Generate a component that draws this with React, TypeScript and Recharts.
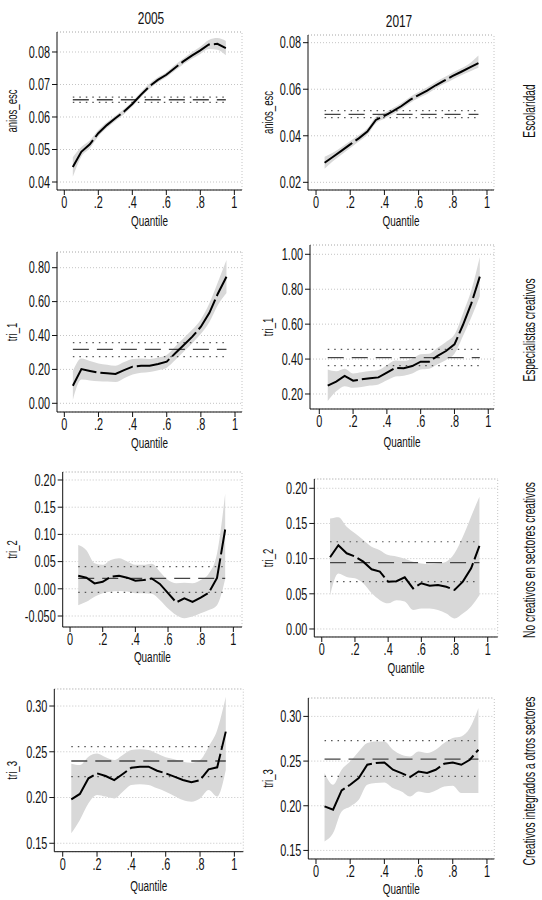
import { ComposedChart, Area, Line, XAxis, YAxis, CartesianGrid, ReferenceLine } from 'recharts';

const FONT = "'Liberation Sans', Arial, sans-serif";

const quantiles = [0.05, 0.1, 0.15, 0.2, 0.25, 0.3, 0.35, 0.4, 0.45, 0.5, 0.55, 0.6, 0.65, 0.7, 0.75, 0.8, 0.85, 0.9, 0.95];
const xTicks = [0, 0.2, 0.4, 0.6, 0.8, 1];

// anios_esc 2005
const esc2005Est = [0.0446, 0.0493, 0.0516, 0.055, 0.0575, 0.0596, 0.0616, 0.064, 0.0668, 0.0694, 0.0714, 0.073, 0.0751, 0.0771, 0.0789, 0.0805, 0.0823, 0.0825, 0.0812];
const esc2005Lo = [0.0416, 0.0478, 0.0504, 0.054, 0.0566, 0.0588, 0.0608, 0.0632, 0.066, 0.0686, 0.0706, 0.0722, 0.0742, 0.0762, 0.0779, 0.0794, 0.0809, 0.0807, 0.079];
const esc2005Hi = [0.0476, 0.0508, 0.0528, 0.056, 0.0584, 0.0604, 0.0624, 0.0648, 0.0676, 0.0702, 0.0722, 0.0738, 0.076, 0.078, 0.0799, 0.0816, 0.0837, 0.0843, 0.0834];
const esc2005Ols = [0.0653, 0.0645, 0.0661]; // coef, lower, upper

// anios_esc 2017
const esc2017Est = [0.0284, 0.031, 0.0336, 0.0363, 0.0389, 0.0418, 0.0468, 0.0486, 0.0506, 0.0528, 0.0554, 0.0575, 0.0594, 0.0617, 0.0637, 0.0657, 0.0675, 0.0694, 0.0712];
const esc2017Lo = [0.0258, 0.0292, 0.032, 0.0348, 0.0375, 0.0404, 0.0454, 0.0473, 0.0493, 0.0515, 0.0541, 0.0562, 0.058, 0.0603, 0.0623, 0.0642, 0.066, 0.0676, 0.0692];
const esc2017Hi = [0.031, 0.0328, 0.0352, 0.0378, 0.0403, 0.0432, 0.0482, 0.0499, 0.0519, 0.0541, 0.0567, 0.0588, 0.0608, 0.0631, 0.0651, 0.0672, 0.069, 0.0712, 0.0745];
const esc2017Ols = [0.0492, 0.0478, 0.0508];

// tri_1 2005
const tri1_2005Est = [0.104, 0.202, 0.191, 0.181, 0.177, 0.173, 0.196, 0.216, 0.222, 0.222, 0.232, 0.246, 0.295, 0.344, 0.393, 0.452, 0.534, 0.648, 0.747];
const tri1_2005Lo = [0.02, 0.14, 0.135, 0.13, 0.128, 0.125, 0.148, 0.17, 0.18, 0.185, 0.195, 0.21, 0.255, 0.305, 0.355, 0.41, 0.48, 0.58, 0.65];
const tri1_2005Hi = [0.19, 0.265, 0.25, 0.235, 0.228, 0.222, 0.244, 0.262, 0.265, 0.262, 0.27, 0.285, 0.335, 0.385, 0.435, 0.495, 0.59, 0.715, 0.845];
const tri1_2005Ols = [0.318, 0.275, 0.358];

// tri_1 2017
const tri1_2017Est = [0.248, 0.271, 0.303, 0.276, 0.284, 0.29, 0.295, 0.322, 0.349, 0.347, 0.36, 0.385, 0.385, 0.418, 0.446, 0.484, 0.595, 0.719, 0.872];
const tri1_2017Lo = [0.16, 0.215, 0.245, 0.235, 0.24, 0.248, 0.255, 0.278, 0.3, 0.305, 0.318, 0.34, 0.345, 0.37, 0.395, 0.43, 0.53, 0.64, 0.76];
const tri1_2017Hi = [0.34, 0.33, 0.345, 0.318, 0.325, 0.332, 0.338, 0.365, 0.392, 0.39, 0.402, 0.428, 0.43, 0.465, 0.498, 0.54, 0.66, 0.795, 0.985];
const tri1_2017Ols = [0.408, 0.362, 0.456];

// tri_2 2005
const tri2_2005Est = [0.024, 0.0205, 0.01, 0.013, 0.022, 0.024, 0.0205, 0.015, 0.016, 0.019, 0.009, -0.008, -0.025, -0.0175, -0.024, -0.016, -0.007, 0.02, 0.109];
const tri2_2005Lo = [-0.03, -0.024, -0.0145, -0.008, -0.005, -0.004, -0.005, -0.008, -0.008, -0.009, -0.0205, -0.036, -0.048, -0.054, -0.051, -0.045, -0.039, -0.03, 0.018];
const tri2_2005Hi = [0.0805, 0.071, 0.047, 0.044, 0.053, 0.056, 0.05, 0.044, 0.044, 0.046, 0.0315, 0.016, 0.01, 0.011, 0.01, 0.016, 0.028, 0.065, 0.175];
const tri2_2005Ols = [0.0192, -0.0065, 0.0407];

// tri_2 2017
const tri2_2017Est = [0.102, 0.119, 0.1076, 0.103, 0.0957, 0.0848, 0.0815, 0.0673, 0.068, 0.0735, 0.0578, 0.065, 0.0616, 0.0626, 0.06, 0.0555, 0.0673, 0.0863, 0.118];
const tri2_2017Lo = [0.048, 0.079, 0.074, 0.072, 0.065, 0.051, 0.041, 0.0365, 0.041, 0.039, 0.027, 0.029, 0.029, 0.027, 0.022, 0.015, 0.022, 0.032, 0.048];
const tri2_2017Hi = [0.157, 0.159, 0.1455, 0.136, 0.1265, 0.117, 0.112, 0.105, 0.103, 0.1, 0.0957, 0.093, 0.092, 0.093, 0.0957, 0.1076, 0.131, 0.16, 0.188];
const tri2_2017Ols = [0.0943, 0.0673, 0.124];

// tri_3 2005
const tri3_2005Est = [0.198, 0.2039, 0.221, 0.2264, 0.2235, 0.219, 0.2257, 0.2326, 0.2337, 0.2337, 0.2293, 0.2264, 0.2228, 0.2192, 0.2166, 0.219, 0.2308, 0.233, 0.272];
const tri3_2005Lo = [0.161, 0.1755, 0.1937, 0.2028, 0.201, 0.199, 0.2064, 0.2137, 0.2144, 0.2137, 0.21, 0.2064, 0.2017, 0.1973, 0.1955, 0.199, 0.2082, 0.201, 0.23];
const tri3_2005Hi = [0.237, 0.2355, 0.2446, 0.248, 0.244, 0.241, 0.2465, 0.252, 0.2527, 0.252, 0.248, 0.244, 0.2418, 0.239, 0.238, 0.241, 0.2556, 0.2738, 0.31];
const tri3_2005Ols = [0.2399, 0.2228, 0.2556];

// tri_3 2017
const tri3_2017Est = [0.1993, 0.1955, 0.2172, 0.2235, 0.231, 0.2459, 0.2478, 0.2485, 0.2403, 0.2366, 0.2321, 0.2384, 0.2366, 0.2403, 0.247, 0.2485, 0.2459, 0.2515, 0.2627];
const tri3_2017Lo = [0.16, 0.1694, 0.1937, 0.1993, 0.2067, 0.2235, 0.2254, 0.2261, 0.2198, 0.216, 0.2104, 0.216, 0.2142, 0.2172, 0.2216, 0.2224, 0.2142, 0.2142, 0.2142];
const tri3_2017Hi = [0.2366, 0.2235, 0.2403, 0.2496, 0.2608, 0.2701, 0.272, 0.272, 0.2627, 0.2571, 0.2552, 0.2608, 0.259, 0.2627, 0.2701, 0.2757, 0.2776, 0.287, 0.3093];
const tri3_2017Ols = [0.2522, 0.2328, 0.2728];

const yTicksEsc2005 = [0.04, 0.05, 0.06, 0.07, 0.08];
const yTicksEsc2017 = [0.02, 0.04, 0.06, 0.08];
const yTicksTri1_2005 = [0, 0.2, 0.4, 0.6, 0.8];
const yTicksTri1_2017 = [0.2, 0.4, 0.6, 0.8, 1];
const yTicksTri2_2005 = [-0.05, 0, 0.05, 0.1, 0.15, 0.2];
const yTicksTri2_2017 = [0, 0.05, 0.1, 0.15, 0.2];
const yTicksTri3 = [0.15, 0.2, 0.25, 0.3];

const columnTitles = ['2005', '2017'];
const rowTitles = ['Escolaridad', 'Especialistas creativos', 'No creativos en sectores creativos', 'Creativos integrados a otros sectores'];

const panels = [
  { name: 'anios_esc', est: esc2005Est, lo: esc2005Lo, hi: esc2005Hi, ols: esc2005Ols, ticks: yTicksEsc2005, col: 0, l: 57, t: 32, r: 242, b: 190, xd: [-0.043, 1.045], yd: [0.03754, 0.08615], qOff: 31 },
  { name: 'anios_esc', est: esc2017Est, lo: esc2017Lo, hi: esc2017Hi, ols: esc2017Ols, ticks: yTicksEsc2017, col: 1, l: 308, t: 35, r: 494, b: 190, xd: [-0.047, 1.041], yd: [0.0167, 0.0833], qOff: 31 },
  { name: 'tri_1', est: tri1_2005Est, lo: tri1_2005Lo, hi: tri1_2005Hi, ols: tri1_2005Ols, ticks: yTicksTri1_2005, col: 0, l: 57, t: 252, r: 242, b: 412, xd: [-0.043, 1.041], yd: [-0.0513, 0.8926], qOff: 31 },
  { name: 'tri_1', est: tri1_2017Est, lo: tri1_2017Lo, hi: tri1_2017Hi, ols: tri1_2017Ols, ticks: yTicksTri1_2017, col: 1, l: 310, t: 245, r: 494, b: 409, xd: [-0.055, 1.034], yd: [0.114, 1.0533], qOff: 33 },
  { name: 'tri_2', est: tri2_2005Est, lo: tri2_2005Lo, hi: tri2_2005Hi, ols: tri2_2005Ols, ticks: yTicksTri2_2005, col: 0, l: 62.7, t: 472, r: 242, b: 627, xd: [-0.045, 1.053], yd: [-0.0702, 0.2147], qOff: 30 },
  { name: 'tri_2', est: tri2_2017Est, lo: tri2_2017Lo, hi: tri2_2017Hi, ols: tri2_2017Ols, ticks: yTicksTri2_2017, col: 1, l: 314.3, t: 479, r: 497.7, b: 637, xd: [-0.045, 1.06], yd: [-0.0114, 0.2132], qOff: 31 },
  { name: 'tri_3', est: tri3_2005Est, lo: tri3_2005Lo, hi: tri3_2005Hi, ols: tri3_2005Ols, ticks: yTicksTri3, col: 0, l: 54.3, t: 689, r: 243.3, b: 851.7, xd: [-0.049, 1.052], yd: [0.1408, 0.3186], qOff: 34 },
  { name: 'tri_3', est: tri3_2017Est, lo: tri3_2017Lo, hi: tri3_2017Hi, ols: tri3_2017Ols, ticks: yTicksTri3, col: 1, l: 308.3, t: 698.3, r: 494.3, b: 859.3, xd: [-0.045, 1.043], yd: [0.1404, 0.3206], qOff: 30 },
];

const colLeft = [0, 258];
const yLabelX = [12, 268];

const fmtY = (v: number) => (v === -0.05 ? '-0.050' : v.toFixed(2));
const fmtX = (v: number) => (v === 0 ? '0' : v === 1 ? '1' : '.' + Math.round(v * 10));

const YTick = ({ x, y, payload }: any) => (
  <text transform={`translate(${x},${y}) scale(0.68,1)`} textAnchor="end" dy="0.36em" fontSize={16} fontFamily={FONT} fill="#111">
    {fmtY(payload.value)}
  </text>
);

const XTick = ({ x, y, payload }: any) => (
  <text transform={`translate(${x},${y}) scale(0.68,1)`} textAnchor="middle" dy="0.71em" fontSize={16} fontFamily={FONT} fill="#111">
    {fmtX(payload.value)}
  </text>
);

function Panel({ p }: { p: any }) {
  const left = colLeft[p.col];
  const width = p.r + 4 - left;
  const height = p.b - p.t + 53;
  const rows = quantiles.map((q, i) => ({
    q,
    est: p.est[i],
    band: [p.lo[i], p.hi[i]],
    ols: p.ols[0],
    olsLo: p.ols[1],
    olsHi: p.ols[2],
  }));
  const lx = yLabelX[p.col] - left;
  return (
    <div style={{ position: 'absolute', left, top: p.t - 5 }}>
      <ComposedChart width={width} height={height} data={rows} margin={{ top: 5, right: 4, bottom: 0, left: 0 }}>
        <CartesianGrid horizontal vertical={false} stroke="#c4c4c4" strokeDasharray="1 2" />
        <XAxis
          type="number"
          dataKey="q"
          domain={p.xd}
          ticks={xTicks}
          allowDataOverflow
          height={48}
          tickSize={5}
          tickMargin={2}
          tick={<XTick />}
          stroke="#111"
          label={(lp: any) => {
            const vb = lp.viewBox;
            return (
              <text transform={`translate(${vb.x + vb.width / 2},${vb.y + p.qOff}) scale(0.64,1)`} textAnchor="middle" dominantBaseline="central" fontSize={15.5} fontFamily={FONT} fill="#111">
                Quantile
              </text>
            );
          }}
        />
        <YAxis
          type="number"
          domain={p.yd}
          ticks={p.ticks}
          allowDataOverflow
          width={p.l - left}
          tickSize={5}
          tickMargin={2}
          tick={<YTick />}
          stroke="#111"
          label={(lp: any) => {
            const vb = lp.viewBox;
            return (
              <text transform={`translate(${lx},${vb.y + vb.height / 2}) rotate(-90) scale(0.62,1)`} textAnchor="middle" dominantBaseline="central" fontSize={15.5} fontFamily={FONT} fill="#111">
                {p.name}
              </text>
            );
          }}
        />
        <ReferenceLine y={p.yd[1]} stroke="#c4c4c4" strokeDasharray="1 2" />
        <ReferenceLine x={p.xd[1]} stroke="#c4c4c4" strokeDasharray="1 2" />
        <Area dataKey="band" type="monotone" fill="#d8d8d8" fillOpacity={1} stroke="none" isAnimationActive={false} />
        <Line dataKey="olsHi" stroke="#555" strokeWidth={1.2} strokeDasharray="1.5 5" dot={false} isAnimationActive={false} />
        <Line dataKey="olsLo" stroke="#555" strokeWidth={1.2} strokeDasharray="1.5 5" dot={false} isAnimationActive={false} />
        <Line dataKey="ols" stroke="#444" strokeWidth={1.3} strokeDasharray="16 8" dot={false} isAnimationActive={false} />
        <Line dataKey="est" stroke="#000" strokeWidth={2} strokeDasharray="34 4" dot={false} isAnimationActive={false} />
      </ComposedChart>
    </div>
  );
}

const titleStyle = (cx: number, cy: number): any => ({
  position: 'absolute',
  left: cx,
  top: cy,
  transform: 'translate(-50%,-50%) scaleX(0.7)',
  fontSize: 17,
  lineHeight: 1,
  whiteSpace: 'nowrap',
  fontFamily: FONT,
  color: '#111',
});

const rowStyle = (cx: number, cy: number): any => ({
  position: 'absolute',
  left: cx,
  top: cy,
  transform: 'translate(-50%,-50%) rotate(-90deg) scaleX(0.6)',
  fontSize: 17,
  lineHeight: 1,
  whiteSpace: 'nowrap',
  fontFamily: FONT,
  color: '#111',
});

const titlePos = [[151, 18], [399, 21]];
const rowPos = [[529, 111], [529, 330], [529, 560], [529, 781]];

export default function App() {
  return (
    <div style={{ position: 'absolute', left: 0, top: 0, width: 542, height: 900, background: '#fff', overflow: 'hidden' }}>
      {columnTitles.map((t, i) => (
        <div key={t} style={titleStyle(titlePos[i][0], titlePos[i][1])}>{t}</div>
      ))}
      {rowTitles.map((t, i) => (
        <div key={t} style={rowStyle(rowPos[i][0], rowPos[i][1])}>{t}</div>
      ))}
      {panels.map((p, i) => (
        <Panel key={i} p={p} />
      ))}
    </div>
  );
}
